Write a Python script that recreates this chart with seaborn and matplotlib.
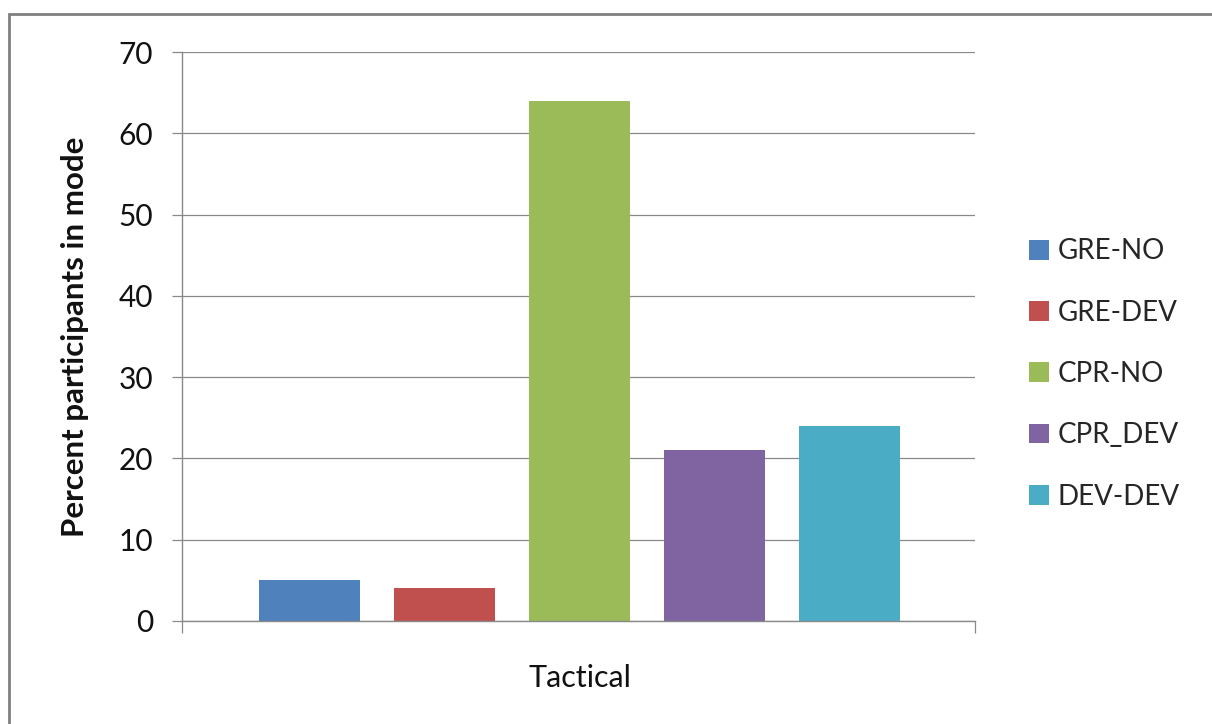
import matplotlib
matplotlib.use("Agg")
import matplotlib.pyplot as plt
import matplotlib.patches as mpatches
import pandas as pd
import seaborn as sns

# data
categories = ["Tactical"]
series = ["GRE-NO", "GRE-DEV", "CPR-NO", "CPR_DEV", "DEV-DEV"]
values = [5, 4, 64, 21, 24]
colors = ["#4F81BD", "#C0504D", "#9BBB59", "#8064A2", "#4BACC6"]
y_ticks = [0, 10, 20, 30, 40, 50, 60, 70]

df = pd.DataFrame({
    "mode": categories * len(series),
    "series": series,
    "pct": values,
})

sns.set_theme(style="white")
plt.rcParams["font.family"] = ["Lato", "DejaVu Sans"]

GRID = "#898989"
W, H = 1212, 724
fig = plt.figure(figsize=(W / 100, H / 100), dpi=100)
ax = fig.add_axes([182 / W, 1 - 621 / H, (975 - 182) / W, (621 - 52) / H])

sns.barplot(
    data=df,
    x="mode",
    y="pct",
    hue="series",
    hue_order=series,
    palette=dict(zip(series, colors)),
    width=0.8,
    gap=0.252,
    dodge=True,
    saturation=1,
    errorbar=None,
    linewidth=0,
    ax=ax,
)

x_lo, x_hi = -0.4711, 0.4687
ax.set_xlim(x_lo, x_hi)
ax.set_ylim(0, 70)
ax.set_yticks(y_ticks)
ax.set_xticks([0], labels=categories)
ax.set_xticks([x_lo, x_hi], minor=True)

ax.tick_params(axis="y", which="major", left=True, length=7.2, width=0.9,
               color=GRID, pad=13.5, labelsize=21.5, labelcolor="#111111")
ax.tick_params(axis="x", which="major", bottom=False, length=0, pad=31,
               labelsize=22, labelcolor="#111111")
ax.tick_params(axis="x", which="minor", bottom=True, length=8.5, width=0.9,
               color=GRID)

ax.yaxis.grid(True, color=GRID, linewidth=0.9)
ax.set_axisbelow(True)
for side in ["top", "right"]:
    ax.spines[side].set_visible(False)
for side in ["left", "bottom"]:
    ax.spines[side].set_color(GRID)
    ax.spines[side].set_linewidth(1.0)

ax.set_xlabel("")
ax.set_ylabel("Percent participants in mode", fontsize=22.5, fontweight="bold",
              color="#111111")
ax.yaxis.set_label_coords(-0.117, 0.5)

handles, labels = ax.get_legend_handles_labels()
ax.legend(
    handles, labels,
    loc="center left",
    bbox_to_anchor=(1029 / W, 1 - 374 / H),
    bbox_transform=fig.transFigure,
    frameon=False,
    fontsize=20,
    handlelength=0.72,
    handleheight=0.72,
    handletextpad=0.3,
    labelspacing=1.27,
    borderpad=0,
    borderaxespad=0,
)

# outer chart border (only left and top visible in the crop)
fig.patches.append(mpatches.Rectangle(
    (8.5 / W, -0.1), 1.2, 1 - 14 / H + 0.1,
    transform=fig.transFigure, fill=False, edgecolor="#808080", linewidth=2,
))

fig.savefig("out.png", dpi=100)
